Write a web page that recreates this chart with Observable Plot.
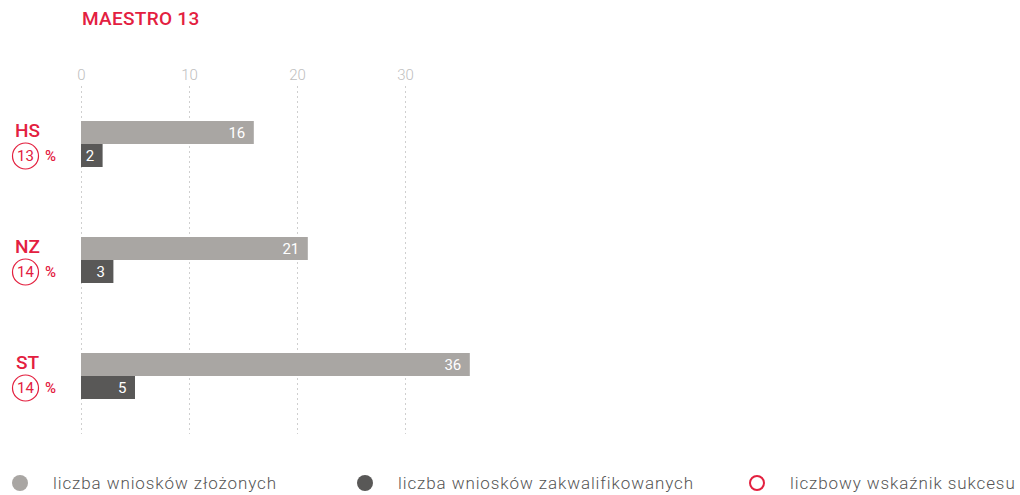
<!DOCTYPE html>
<html>
<head>
<meta charset="utf-8">
<script src="https://cdn.jsdelivr.net/npm/d3@7"></script>
<script src="https://cdn.jsdelivr.net/npm/@observablehq/plot@0.6"></script>
<style>
  html, body { margin: 0; padding: 0; background: #fff; width: 1020px; height: 495px; overflow: hidden; font-family: Roboto, "Noto Sans", sans-serif; }
  #title { position: absolute; left: 82px; top: 7px; font-size: 19px; font-weight: 500; color: #e3203f; letter-spacing: 0.3px; }
  #chart { position: absolute; left: 0; top: 40px; }
  .leg { position: absolute; top: 473px; font-size: 17px; font-weight: 300; color: #555; letter-spacing: 0.9px; display: flex; align-items: center; white-space: nowrap; }
  .sw { width: 16px; height: 16px; border-radius: 50%; box-sizing: border-box; margin-right: 25px; }
</style>
</head>
<body>
<div id="title">MAESTRO 13</div>
<div id="chart"></div>
<div class="leg" style="left:12px"><div class="sw" style="background:#a9a6a3"></div>liczba wniosków złożonych</div>
<div class="leg" style="left:357px"><div class="sw" style="background:#595857"></div>liczba wniosków zakwalifikowanych</div>
<div class="leg" style="left:749px"><div class="sw" style="border:2.5px solid #e3203f"></div>liczbowy wskaźnik sukcesu</div>
<script>
const categories = ["HS", "NZ", "ST"];
const submitted = [16, 21, 36];
const qualified = [2, 3, 5];
const successRate = [13, 14, 14];
const xTicks = [0, 10, 20, 30];

const RED = "#e3203f";
const GREY = "#a9a6a3";
const DARK = "#595857";

const rows = [];
categories.forEach((c, i) => {
  rows.push({cat: c, series: "z", value: submitted[i]});
  rows.push({cat: c, series: "q", value: qualified[i]});
});
const labels = categories.map((c, i) => ({cat: c, rate: successRate[i]}));

const chart = Plot.plot({
  width: 1020,
  height: 420,
  marginLeft: 81,
  marginRight: 507,
  marginTop: 46,
  marginBottom: 26,
  style: {fontFamily: "Roboto, 'Noto Sans', sans-serif", background: "transparent"},
  x: {domain: [0, 40], axis: null},
  y: {domain: ["z", "q"], paddingInner: 0, paddingOuter: 1.47, axis: null},
  fy: {domain: categories, padding: 0, axis: null},
  color: {domain: ["z", "q"], range: [GREY, DARK]},
  marks: [
    Plot.gridX(xTicks, {stroke: "#cfcfcf", strokeOpacity: 1, strokeDasharray: "2,3"}),
    Plot.axisX({anchor: "top", ticks: xTicks, tickSize: 0, tickPadding: 7, fontSize: 15, fontWeight: 300, color: "#c0c0c0", label: null}),
    Plot.barX(rows, {x: "value", y: "series", fy: "cat", fill: "series", inset: 0}),
    Plot.text(rows, {x: "value", y: "series", fy: "cat", text: d => String(d.value), textAnchor: "end", dx: -9, fill: "white", fontSize: 15, fontWeight: 400, letterSpacing: 0.5}),
    Plot.text(labels, {fy: "cat", y: () => "z", frameAnchor: "left", dx: -54, text: "cat", textAnchor: "middle", fill: RED, fontSize: 19, fontWeight: 500, dy: -2}),
    Plot.dot(labels, {fy: "cat", y: () => "q", frameAnchor: "left", dx: -56, r: 13, stroke: RED, strokeWidth: 1.2, fill: "white"}),
    Plot.text(labels, {fy: "cat", y: () => "q", frameAnchor: "left", dx: -56, text: d => String(d.rate), textAnchor: "middle", fill: RED, fontSize: 15}),
    Plot.text(labels, {fy: "cat", y: () => "q", frameAnchor: "left", dx: -31, text: () => "%", textAnchor: "middle", fill: RED, fontSize: 15, fontWeight: 500})
  ]
});
document.getElementById("chart").appendChild(chart);
</script>
</body>
</html>
